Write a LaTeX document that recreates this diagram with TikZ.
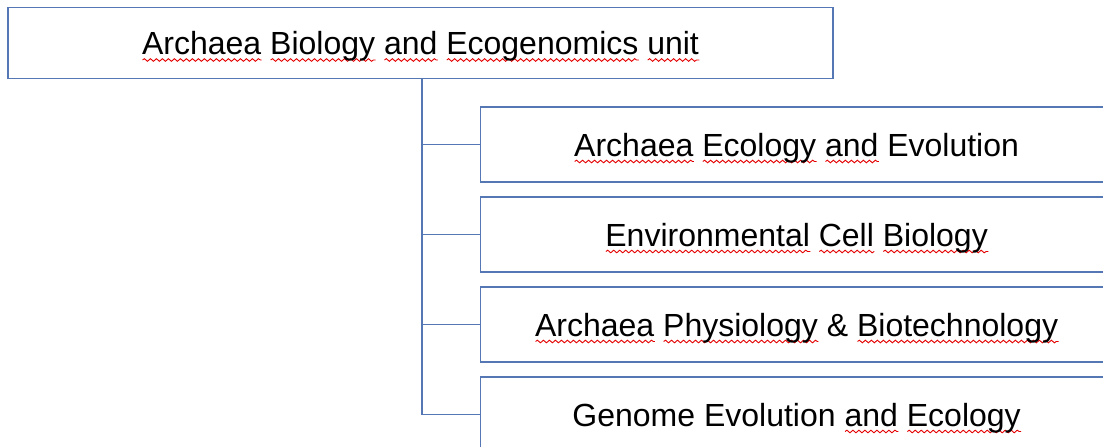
\documentclass[tikz,border=0pt]{standalone}
\usepackage{fontspec}
\setmainfont{Liberation Sans}
\usetikzlibrary{decorations.pathmorphing}

\definecolor{boxblue}{HTML}{5578B4}
\newlength{\sqlen}
\newcommand{\sq}[1]{\settowidth{\sqlen}{#1}\rlap{\tikz[baseline=0pt,x=1pt,y=1pt]
	\draw [red!90!black, line width=0.9pt, decorate, decoration={snake, amplitude=1.3pt, segment length=6pt}]
	(0,-5.5) -- (\sqlen,-5.5);}#1}

\tikzset{unitbox/.style={draw=boxblue, line width=1.2pt, fill=white, inner sep=0pt,
		text height=27pt, text depth=4pt, font=\fontsize{32}{38}\selectfont}}

\begin{document}
\begin{tikzpicture}[x=1pt,y=-1pt]
	\useasboundingbox (0,0) rectangle (1103,447);

	\node [unitbox, minimum width=825, minimum height=71] (unit) at (420.5,43)
		{\sq{Archaea} \sq{Biology} \sq{and} \sq{Ecogenomics} \sq{unit}};

	\coordinate (spine) at (422,78.5);

	\foreach \y/\name/\txt in {144.5/ecol/{\sq{Archaea} \sq{Ecology} \sq{and} Evolution},
			234.5/cell/{\sq{Environmental} \sq{Cell} \sq{Biology}},
			324.5/phys/{\sq{Archaea} \sq{Physiology} \& \sq{Biotechnology}},
			414.5/gen/{Genome Evolution \sq{and} \sq{Ecology}}} {
		\node [unitbox, anchor=west, minimum width=632, minimum height=75] (\name) at (480,\y) {\txt};
		\draw [boxblue, line width=1.2pt] (spine |- \name.west) -- (\name.west);
	}

	\draw [boxblue, line width=1.2pt] (spine) -- (spine |- gen.west);
\end{tikzpicture}
\end{document}
